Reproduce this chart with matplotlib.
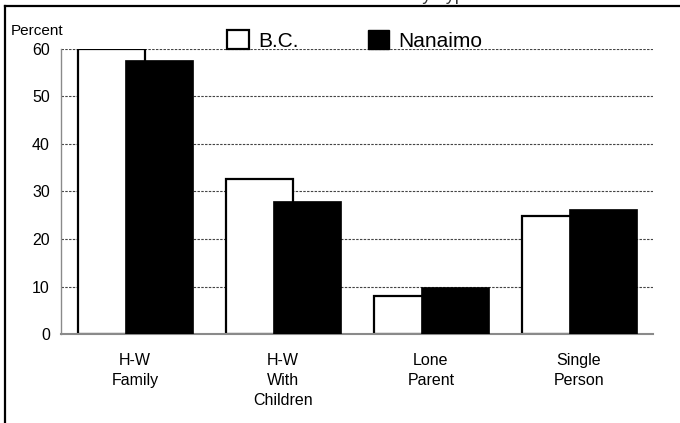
import matplotlib
matplotlib.use("Agg")
import matplotlib.pyplot as plt
from matplotlib.patches import Patch
from matplotlib.lines import Line2D
import numpy as np

plt.rcParams['font.family'] = ['Liberation Sans', 'DejaVu Sans']

# data
categories = ['H-W\nFamily', 'H-W\nWith\nChildren', 'Lone\nParent', 'Single\nPerson']
bc = [59.9, 32.6, 8.0, 24.8]
nanaimo = [57.6, 27.9, 10.0, 26.3]
yticks = [0, 10, 20, 30, 40, 50, 60]
title = 'Percent of Households by Type'

W, H = 680, 423
fig = plt.figure(figsize=(W / 100, H / 100), dpi=100)
fig.patch.set_facecolor('white')

ax = fig.add_axes([61 / W, 1 - 334.3 / H, 592 / W, 285.6 / H])
x = np.arange(len(categories))

ax.bar(x - 0.387, bc, width=0.453, align='edge', color='white',
       edgecolor='black', linewidth=1.6, zorder=2)
ax.bar(x - 0.068, nanaimo, width=0.46, align='edge', color='black',
       edgecolor='black', linewidth=0.5, zorder=3)

ax.set_xlim(-0.5, len(categories) - 0.5)
ax.set_ylim(0, 60)
ax.set_yticks(yticks)
ax.set_xticks(x)
ax.set_xticklabels(categories, fontsize=11.5, linespacing=1.4)
ax.tick_params(axis='y', length=0, pad=8, labelsize=11.5)
ax.tick_params(axis='x', length=0, pad=13.5)

ax.set_axisbelow(True)
ax.yaxis.grid(True, linestyle=(0, (2.2, 1.2)), color='#444444', linewidth=0.8)
for side in ['top', 'right']:
    ax.spines[side].set_visible(False)
ax.spines['left'].set_color('#8a8a8a')
ax.spines['left'].set_linewidth(1.0)
ax.spines['bottom'].set_color('#8a8a8a')
ax.spines['bottom'].set_linewidth(1.5)

fig.text(11 / W, 1 - 31 / H, 'Percent', fontsize=11, va='center', ha='left')

handles = [Patch(facecolor='white', edgecolor='black', linewidth=1.6, label='B.C.'),
           Patch(facecolor='black', edgecolor='black', label='Nanaimo')]
fig.legend(handles=handles, loc='upper left', bbox_to_anchor=(227 / W, 1 - 30 / H),
           ncol=2, frameon=False, fontsize=15, handlelength=1.05, handleheight=1.05,
           handletextpad=0.45, columnspacing=3.3, borderpad=0, borderaxespad=0)

# outer frame (cropped on right and bottom) and the title, cut by the top edge
fig.add_artist(Line2D([5 / W, 1], [1 - 6 / H, 1 - 6 / H], color='black', lw=1.6))
fig.add_artist(Line2D([5 / W, 5 / W], [0, 1 - 6 / H], color='black', lw=1.6))
fig.text(350 / W, 1 - 0.4 / H, title, fontsize=13, ha='center', va='baseline',
         color='#333333')

fig.savefig('out.png', dpi=100)
